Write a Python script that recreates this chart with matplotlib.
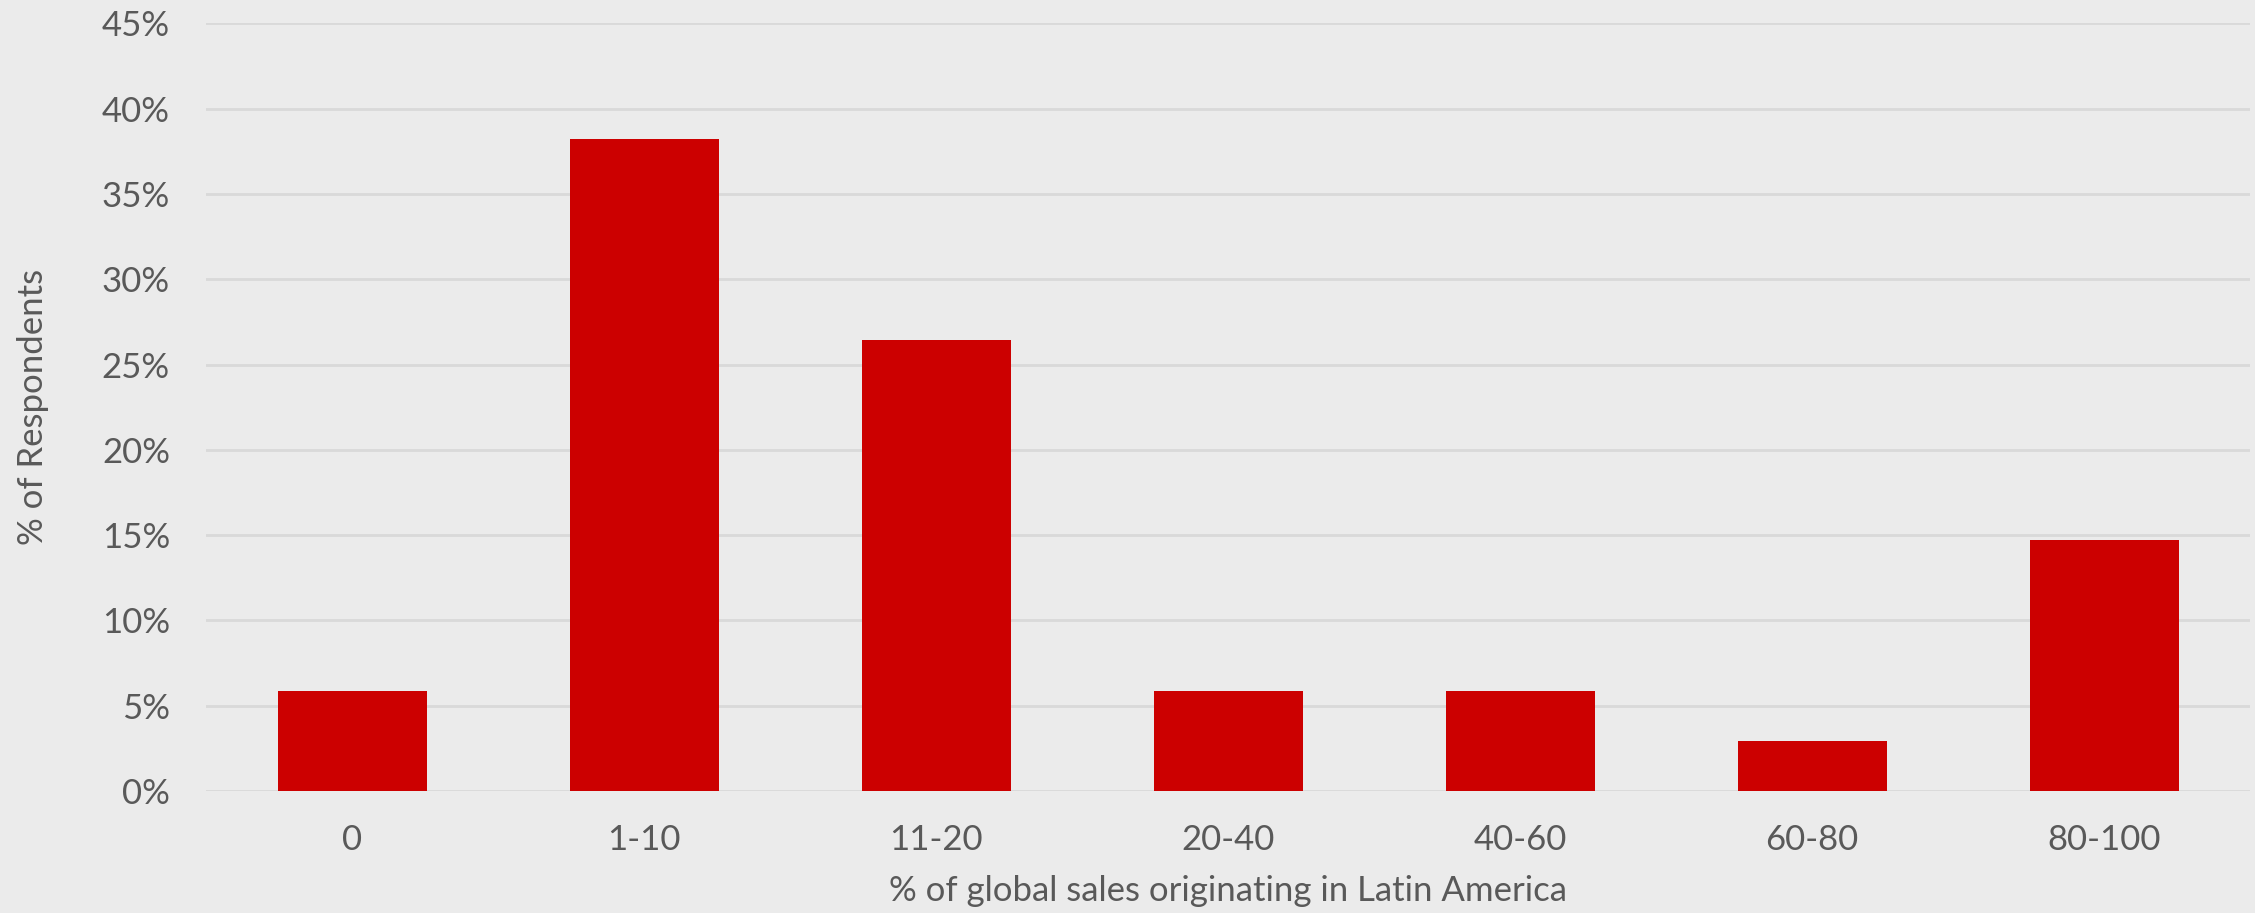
import matplotlib.pyplot as plt
from matplotlib.ticker import PercentFormatter

# Share of respondents by % of global sales originating in Latin America
categories = ['0', '1-10', '11-20', '20-40', '40-60', '60-80', '80-100']
respondents = [2, 13, 9, 2, 2, 1, 5]
total = sum(respondents)
shares = [n / total for n in respondents]

y_ticks = [0, 0.05, 0.10, 0.15, 0.20, 0.25, 0.30, 0.35, 0.40, 0.45]

bg = '#EBEBEB'
text_grey = '#595959'

plt.rcParams['font.family'] = ['Lato', 'DejaVu Sans']

fig = plt.figure(figsize=(22.55, 9.13), dpi=100, facecolor=bg)
ax = fig.add_axes([0.0914, 0.1336, 0.9064, 0.8407], facecolor=bg)

ax.bar(range(len(categories)), shares, width=0.51, color='#CC0000', zorder=3)

ax.set_xlim(-0.5, len(categories) - 0.5)
ax.set_ylim(0, 0.45)
ax.set_yticks(y_ticks)
ax.yaxis.set_major_formatter(PercentFormatter(1.0, decimals=0))
ax.set_xticks(range(len(categories)))
ax.set_xticklabels(categories)

ax.grid(axis='y', color='#D9D9D9', linewidth=2, zorder=0)
for s in ax.spines.values():
    s.set_visible(False)
ax.tick_params(axis='both', length=0, labelsize=25, colors=text_grey)
ax.tick_params(axis='y', pad=26)
ax.tick_params(axis='x', pad=24)

ax.set_xlabel('% of global sales originating in Latin America', fontsize=25, color=text_grey)
ax.xaxis.set_label_coords(0.5, -0.11)
ax.set_ylabel('% of Respondents', fontsize=25, color=text_grey)
ax.yaxis.set_label_coords(-0.077, 0.5)

fig.savefig('out.png', dpi=100, facecolor=bg)
